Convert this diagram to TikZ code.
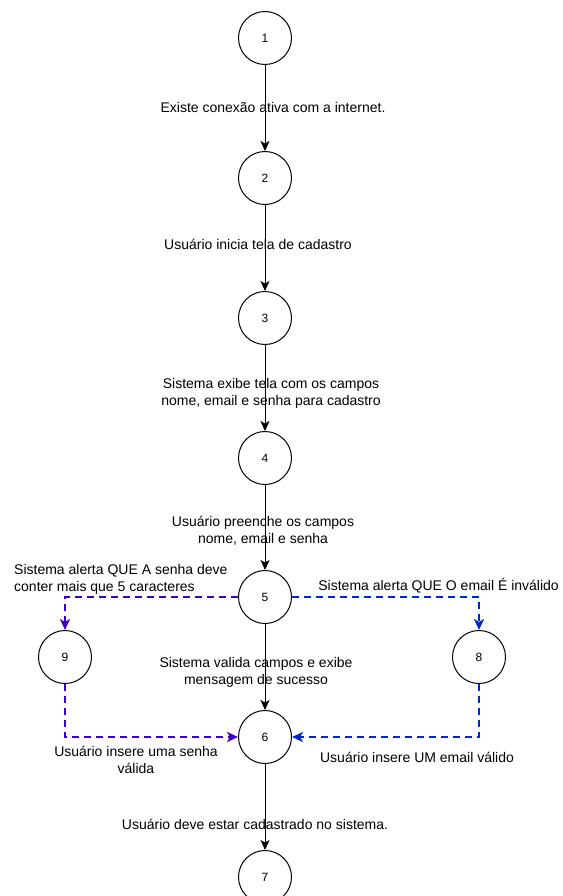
\documentclass[tikz,border=0pt]{standalone}
\usepackage{fontspec}
\setmainfont{Liberation Sans}
\usetikzlibrary{arrows.meta}
\definecolor{altpurple}{HTML}{3D00CC}
\definecolor{altblue}{HTML}{0026CC}
\tikzset{
  state/.style={circle, draw, line width=1pt, minimum size=53pt, inner sep=0pt,
    font=\fontsize{12}{14}\selectfont},
  flow/.style={line width=1pt, -{Stealth[length=10pt, width=9pt, inset=2.5pt]}},
  altflow/.style={line width=2pt, dash pattern=on 7pt off 5pt,
    -{Stealth[length=11pt, width=10pt, inset=3pt]}},
  lbl/.style={font=\fontsize{14}{17}\selectfont, align=center, inner sep=0pt},
}
\begin{document}
\begin{tikzpicture}[x=1pt, y=-1pt]
  \useasboundingbox (0,0) rectangle (562,896);

  % main sequence of states
  \node[state] (s1) at (265,38)  {1};
  \node[state] (s2) at (265,178) {2};
  \node[state] (s3) at (265,318) {3};
  \node[state] (s4) at (265,458) {4};
  \node[state] (s5) at (265,597) {5};
  \node[state] (s6) at (265,737) {6};
  \node[state] (s7) at (265,877) {7};
  % alternative branches
  \node[state] (s9) at (65,657)  {9};
  \node[state] (s8) at (479,657) {8};

  % main flow
  \draw[flow] (s1) -- (s2);
  \draw[flow] (s2) -- (s3);
  \draw[flow] (s3) -- (s4);
  \draw[flow] (s4) -- (s5);
  \draw[flow] (s5) -- (s6);
  \draw[flow] (s6) -- (s7);

  % alternative flows
  \draw[altflow, altpurple] (s5.west) -| (s9.north);
  \draw[altflow, altpurple] (s9.south) |- (s6.west);
  \draw[altflow, altblue] (s5.east) -| (s8.north);
  \draw[altflow, altblue] (s8.south) |- (s6.east);

  % labels
  \node[lbl] (l12) at (273,107) {Existe conexão ativa com a internet.};
  \node[lbl] (l23) at (258,244) {Usuário inicia tela de cadastro};
  \node[lbl] (l34) at (271,393) {Sistema exibe tela com os campos\\nome, email e senha para cadastro};
  \node[lbl] (l45) at (263,531) {Usuário preenche os campos\\nome, email e senha};
  \node[lbl, align=left, anchor=west] (l59) at (14,579) {Sistema alerta QUE A senha deve\\conter mais que 5 caracteres};
  \node[lbl, anchor=east] (l58) at (559,586) {Sistema alerta QUE O email É inválido};
  \node[lbl] (l56) at (256,672) {Sistema valida campos e exibe\\mensagem de sucesso};
  \node[lbl] (l96) at (136,760) {Usuário insere uma senha\\válida};
  \node[lbl] (l86) at (417,757) {Usuário insere UM email válido};
  \node[lbl] (l67) at (255,824) {Usuário deve estar cadastrado no sistema.};
\end{tikzpicture}
\end{document}
